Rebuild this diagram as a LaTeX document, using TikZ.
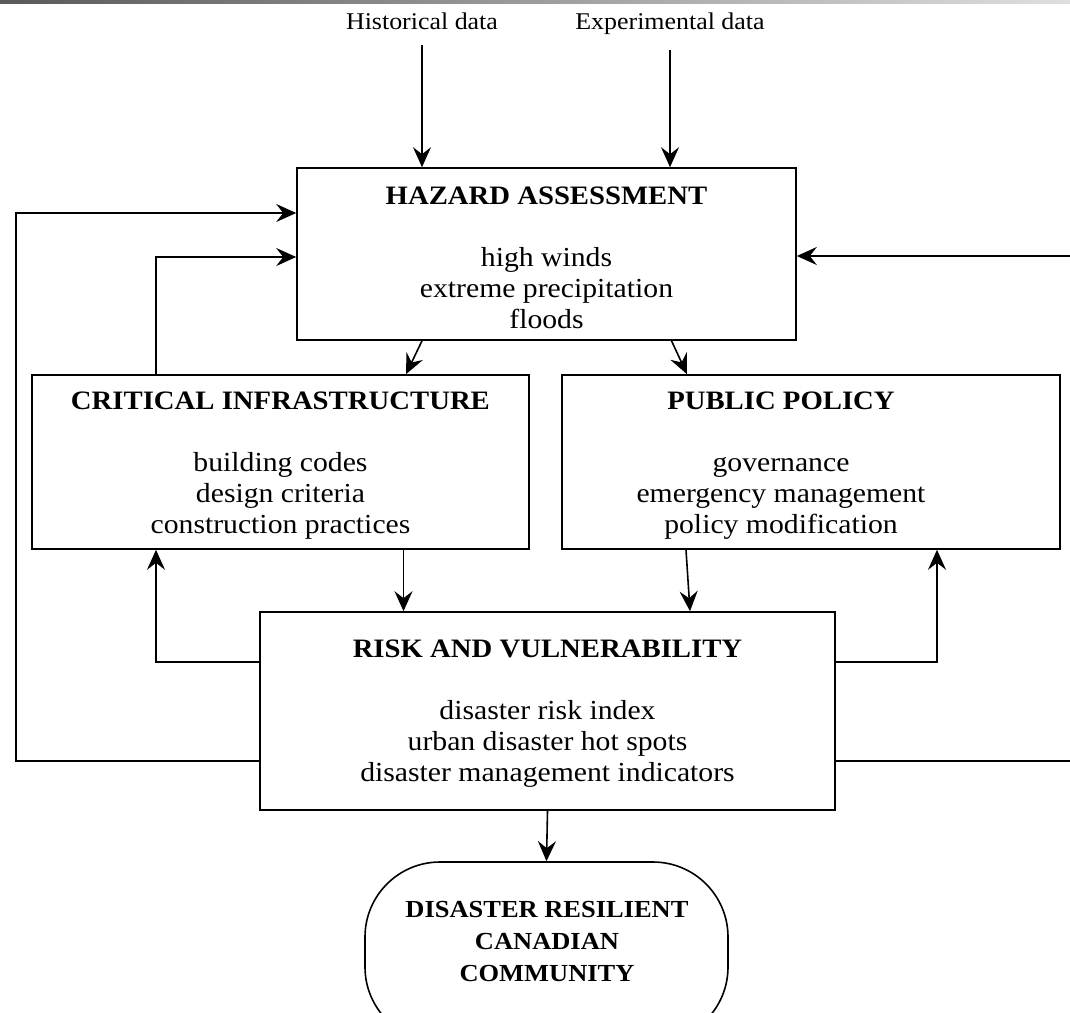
\documentclass[tikz,border=0pt]{standalone}
\usepackage{fontspec}
\setmainfont{Liberation Serif}[FakeStretch=1.08]
\usetikzlibrary{arrows.meta}

\begin{document}
\begin{tikzpicture}[x=1pt,y=-1pt]
   \tikzstyle{box}=[draw, line width=1.6pt, rectangle, inner sep=0pt]
   \tikzstyle{boxtext}=[align=center, inner sep=0pt, font=\fontsize{27.5}{31}\selectfont]
   \tikzstyle{source}=[anchor=base, font=\fontsize{24}{28}\selectfont]
   \tikzstyle{flow}=[line width=1.6pt, -{Stealth[length=20pt,width=18pt,inset=7pt]}]

\useasboundingbox (0,0) rectangle (1070,1012);
\shade[left color=gray!70!black, right color=gray!25] (0,0) rectangle (1070,3);

\node[source] (hist) at (422,29) {Historical data};
\node[source] (expt) at (670,29) {Experimental data};

\node[box, minimum width=499pt, minimum height=172pt] (haz) at (546.5,254) {};
\node[boxtext] (haztext) at ([yshift=-4pt]haz.center)
    {{\fontsize{26.6}{31}\selectfont\bfseries HAZARD ASSESSMENT}\\[31pt] high winds\\ extreme precipitation\\ floods};
\node[box, minimum width=497pt, minimum height=174pt] (crit) at (280.5,462) {};
\node[boxtext] (crittext) at ([yshift=-4pt]crit.center)
    {{\fontsize{26.6}{31}\selectfont\bfseries CRITICAL INFRASTRUCTURE}\\[31pt] building codes\\ design criteria\\ construction practices};
\node[box, minimum width=498pt, minimum height=174pt] (pol) at (811,462) {};
\node[boxtext] (poltext) at ([xshift=-30pt,yshift=-4pt]pol.center)
    {{\fontsize{26.6}{31}\selectfont\bfseries PUBLIC POLICY}\\[31pt] governance\\ emergency management\\ policy modification};
\node[box, minimum width=575pt, minimum height=198pt] (risk) at (547.5,711) {};
\node[boxtext] (risktext) at ([yshift=-3pt]risk.center)
    {{\fontsize{26.6}{31}\selectfont\bfseries RISK AND VULNERABILITY}\\[31pt] disaster risk index\\ urban disaster hot spots\\ disaster management indicators};
\node[box, rounded corners=75pt, minimum width=363pt, minimum height=180pt] (comm) at (546.5,952) {};
\node[boxtext, font=\bfseries\fontsize{24.5}{32}\selectfont] (commtext) at (547,941)
    {DISASTER RESILIENT\\ CANADIAN\\ COMMUNITY};

% corners of the feedback lines
\coordinate (loopA) at (16,761);
\coordinate (loopB) at (16,213);
\coordinate (innerB) at (156,257);
\coordinate (lowL) at (156,662);
\coordinate (lowR) at (937,662);
\coordinate (loopC) at (1076,761);
\coordinate (loopD) at (1076,256);

\draw[flow] ([yshift=-12pt]hist.south) -- (hist.south |- haz.north);
\draw[flow] ([yshift=-12pt]expt.south) -- (expt.south |- haz.north);

\draw[flow] ([xshift=-124.5pt]haz.south) -- ([xshift=125.5pt]crit.north);
\draw[flow] ([xshift=125pt]haz.south) -- ([xshift=-124pt]pol.north);
\draw[flow] ([xshift=123pt]crit.south) -- ([xshift=123pt]crit.south |- risk.north);
\draw[flow] ([xshift=-125pt]pol.south) -- ([xshift=142.5pt]risk.north);
\draw[flow] (risk.south) -- (comm.north);

\draw[flow] (loopA -| risk.west) -- (loopA) -- (loopB) -- (loopB -| haz.west);
\draw[flow] (innerB |- crit.north) -- (innerB) -- (innerB -| haz.west);
\draw[flow] (lowL -| risk.west) -- (lowL) -- (lowL |- crit.south);
\draw[flow] (lowR -| risk.east) -- (lowR) -- (lowR |- pol.south);
\draw[flow] (loopC -| risk.east) -- (loopC) -- (loopD) -- (loopD -| haz.east);

\end{tikzpicture}
\end{document}
